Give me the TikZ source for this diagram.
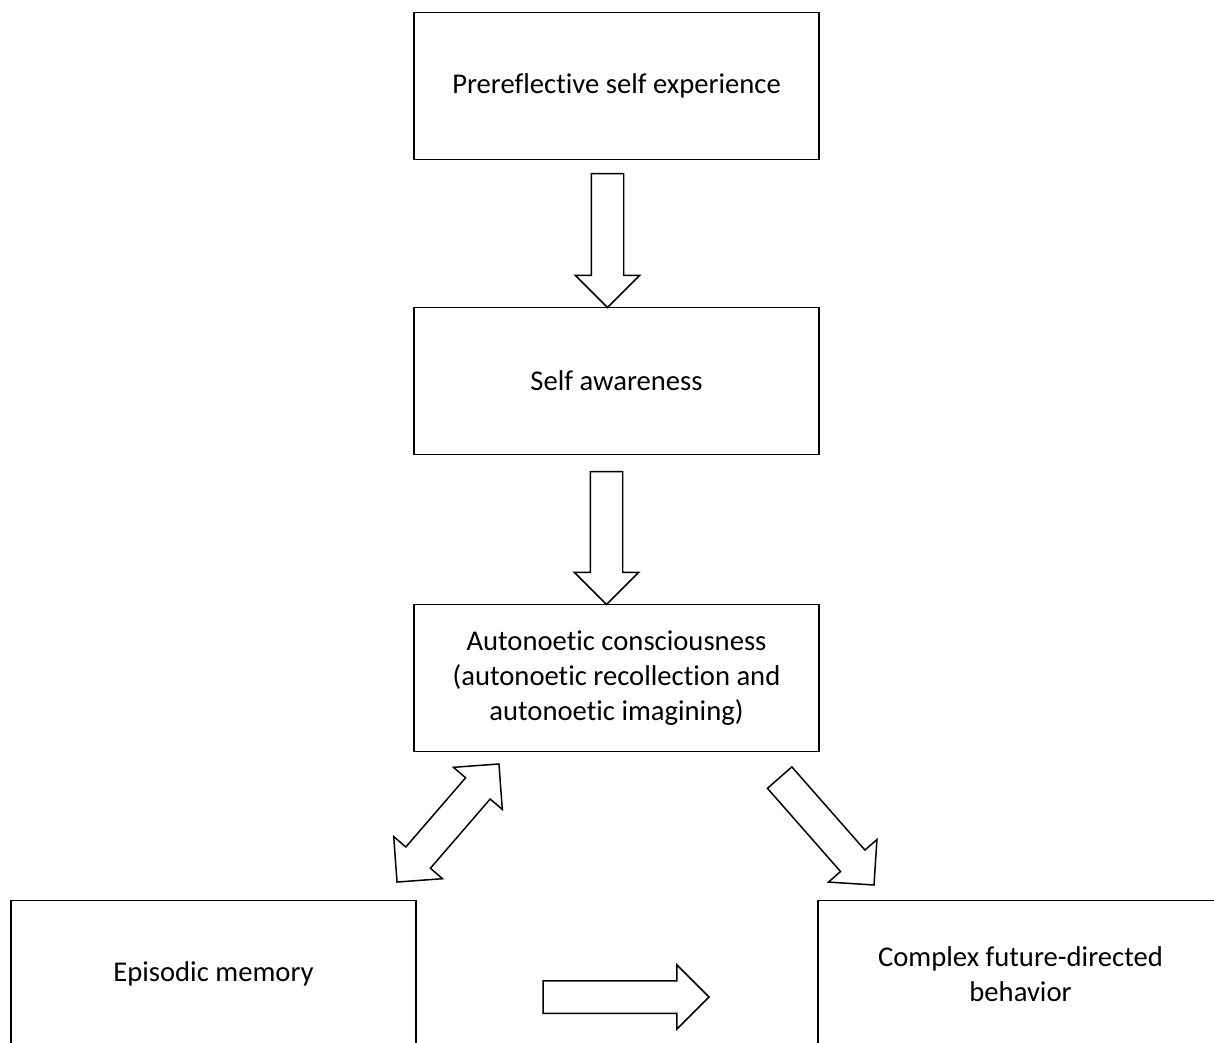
\documentclass[tikz,border=0pt]{standalone}
\usepackage{fontspec}
\setmainfont{Carlito}[Ligatures=NoCommon]
\usetikzlibrary{shapes.arrows}

\begin{document}
\begin{tikzpicture}[x=0.02cm,y=-0.02cm,
	stage/.style={draw,line width=1.1pt,inner sep=0,outer sep=0,minimum width=8.1cm,minimum height=2.94cm,align=center,font=\fontsize{16.3}{19.9}\selectfont},
	fatarrow/.style={draw,single arrow,line width=0.85pt,inner sep=0.31cm,outer sep=0,single arrow head extend=0.32cm},
	twinarrow/.style={draw,double arrow,line width=0.85pt,inner sep=0.31cm,outer sep=0,double arrow head extend=0.32cm}]
	\useasboundingbox (0,0) rectangle (1214,1042);
	\node[stage] (prereflective) at (616.5,86) {Prereflective self experience};
	\node[stage] (awareness) at (616.5,381) {Self awareness};
	\node[stage] (autonoetic) at (616.5,678) {Autonoetic consciousness\\(autonoetic recollection and\\autonoetic imagining)};
	\node[stage] (episodic) at (213.5,974) {Episodic memory};
	\node[stage] (behavior) at (1020.5,974) {Complex future-directed\\behavior};
	\node[fatarrow,rotate=-90,anchor=tip,minimum height=2.68cm] (down1) at ([xshift=-0.18cm]awareness.north) {};
	\node[fatarrow,rotate=-90,anchor=tip,minimum height=2.66cm] (down2) at ([xshift=-0.2cm]autonoetic.north) {};
	\node[twinarrow,rotate=49.2,minimum height=3.12cm] (both) at (448,823) {};
	\node[fatarrow,rotate=-48.7,anchor=tip,minimum height=2.86cm] (diag) at (874,885) {};
	\node[fatarrow,anchor=tip,minimum height=3.32cm] (across) at (709,997) {};
\end{tikzpicture}
\end{document}
